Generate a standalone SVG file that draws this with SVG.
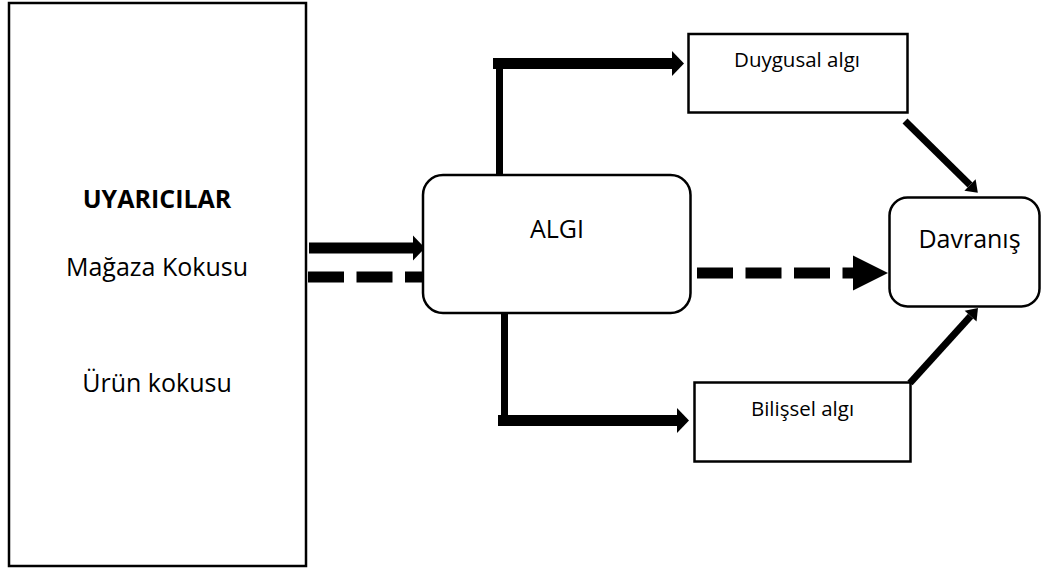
<svg xmlns="http://www.w3.org/2000/svg" width="1041" height="572" viewBox="0 0 1041 572">
<style>
.box{fill:#fff;stroke:#000;stroke-width:2.5}
.t{font-family:"Open Sans","Noto Sans",sans-serif;fill:#000;text-anchor:middle}
.big{font-size:25px}
.sm{font-size:20.5px}
.b{font-weight:bold}
.c{stroke:#000;fill:none}
.thick{stroke-width:11}
.mid{stroke-width:7}
.dash{stroke-dasharray:36 12.5}
</style>
<defs>
<marker id="hs" markerUnits="userSpaceOnUse" markerWidth="12" markerHeight="25" refX="0" refY="12.5" orient="auto" overflow="visible">
<path d="M0,0 L12,12.5 L0,25 Z" fill="#000"/>
</marker>
<marker id="hb" markerUnits="userSpaceOnUse" markerWidth="35" markerHeight="35" refX="0" refY="17.5" orient="auto" overflow="visible">
<path d="M0,0 L35,17.5 L0,35 Z" fill="#000"/>
</marker>
<marker id="hd" markerUnits="userSpaceOnUse" markerWidth="11" markerHeight="16" refX="0" refY="8" orient="auto" overflow="visible">
<path d="M0,0 L11,8 L0,16 Z" fill="#000"/>
</marker>
</defs>
<rect width="1041" height="572" fill="#fff"/>
<g id="connectors">
<line class="c thick" x1="309" y1="248" x2="413" y2="248" marker-end="url(#hs)"/>
<line class="c thick dash" x1="308" y1="277" x2="422" y2="277"/>
<line class="c mid" x1="499.5" y1="175" x2="499.5" y2="58"/>
<line class="c thick" x1="493" y1="63.5" x2="672" y2="63.5" marker-end="url(#hs)"/>
<line class="c mid" x1="504.5" y1="313" x2="504.5" y2="426"/>
<line class="c thick" x1="498" y1="420.5" x2="677" y2="420.5" marker-end="url(#hs)"/>
<line class="c thick dash" stroke-width="12" x1="697" y1="273" x2="853" y2="273" marker-end="url(#hb)"/>
<line class="c mid" x1="905" y1="121" x2="970" y2="185" marker-end="url(#hd)"/>
<line class="c mid" x1="910" y1="383" x2="970.6" y2="316.1" marker-end="url(#hd)"/>
</g>
<g id="uyaricilar">
<rect class="box" x="9" y="3" width="297" height="563"/>
<text class="t big b" x="157" y="208">UYARICILAR</text>
<text class="t big" x="157" y="276">Mağaza Kokusu</text>
<text class="t big" x="157" y="392">Ürün kokusu</text>
</g>
<g id="algi">
<rect class="box" x="423" y="175" width="267.5" height="138" rx="20" ry="20"/>
<text class="t big" x="557" y="238">ALGI</text>
</g>
<g id="duygusal">
<rect class="box" x="688.5" y="34" width="219" height="78.5"/>
<text class="t sm" x="797" y="67">Duygusal algı</text>
</g>
<g id="bilissel">
<rect class="box" x="694.5" y="382.5" width="216" height="79"/>
<text class="t sm" x="802.5" y="416">Bilişsel algı</text>
</g>
<g id="davranis">
<rect class="box" x="889.5" y="197.5" width="150" height="109" rx="18" ry="18"/>
<text class="t big" x="969.5" y="248">Davranış</text>
</g>
</svg>
